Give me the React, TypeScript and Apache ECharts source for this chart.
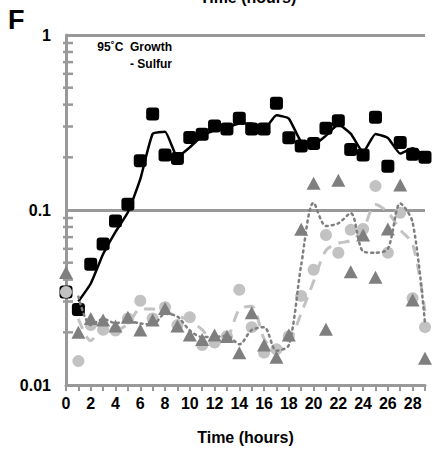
import React, { useEffect, useRef } from "react";
import * as echarts from "echarts";

const hours = [0,1,2,3,4,5,6,7,8,9,10,11,12,13,14,15,16,17,18,19,20,21,22,23,24,25,26,27,28,29];
const squares = [0.034,0.027,0.049,0.064,0.0865,0.108,0.191,0.354,0.206,0.197,0.26,0.271,0.302,0.29,0.334,0.29,0.29,0.407,0.259,0.232,0.24,0.293,0.324,0.222,0.206,0.339,0.178,0.243,0.208,0.2];
const squaresTrend = [null,0.030,0.038,0.056,0.075,0.097,0.150,0.272,0.280,0.201,0.228,0.265,0.286,0.296,0.312,0.312,0.290,0.348,0.333,0.245,0.236,0.266,0.308,0.273,0.214,0.272,0.258,0.210,0.225,0.204];
const circles = [0.034,0.0137,0.022,0.0207,0.0205,0.024,0.0303,0.024,0.0278,0.022,0.0244,0.0169,0.0175,0.019,0.035,0.0214,0.0153,0.016,0.019,0.0323,0.0456,0.072,0.057,0.077,0.078,0.137,0.057,0.0965,0.0313,0.0214];
const circlesTrend = [null,0.0239,0.0179,0.0214,0.0206,0.0223,0.0272,0.0272,0.0259,0.0249,0.0232,0.0207,0.0172,0.0183,0.027,0.0282,0.0184,0.0157,0.0175,0.0257,0.039,0.0588,0.0645,0.067,0.0775,0.1075,0.097,0.077,0.064,0.0264];
const triangles = [0.044,0.02,0.024,0.0235,0.0217,0.0244,0.0206,0.0235,0.0274,0.0217,0.0193,0.0182,0.0193,0.0189,0.0153,0.0259,0.0169,0.0144,0.0193,0.0776,0.142,0.0208,0.148,0.0444,0.072,0.0413,0.078,0.139,0.0306,0.0142];
const trianglesTrend = [null,0.032,0.022,0.0238,0.0226,0.0231,0.0225,0.0221,0.0255,0.0246,0.0205,0.0188,0.0188,0.0191,0.0171,0.0206,0.0214,0.0157,0.0169,0.0485,0.110,0.081,0.084,0.096,0.058,0.057,0.060,0.109,0.085,0.0224];
const minorTicks = [0.02,0.03,0.04,0.05,0.06,0.07,0.08,0.09,0.2,0.3,0.4,0.5,0.6,0.7,0.8,0.9];

const pair = (vals: (number | null)[]) => hours.map((h, i) => [h, vals[i]]).filter((p) => p[1] !== null);

const AXIS = "#999999";
const FONT = "Liberation Sans, Arial, sans-serif";

export default function App() {
  const ref = useRef<HTMLDivElement>(null);
  useEffect(() => {
    if (!ref.current) return;
    const chart = echarts.init(ref.current, null, { renderer: "svg" });
    chart.setOption({
      animation: false,
      grid: { left: 66, right: 18, top: 35, bottom: 66, containLabel: false, outerBoundsMode: "none" },
      xAxis: {
        type: "value",
        min: 0,
        max: 29,
        interval: 1,
        name: "Time (hours)",
        nameLocation: "middle",
        nameGap: 44,
        nameTextStyle: { fontFamily: FONT, fontWeight: "bold", fontSize: 16, color: "#000" },
        axisLine: { onZero: false, lineStyle: { color: AXIS, width: 3 } },
        axisTick: { length: 6, lineStyle: { color: AXIS, width: 2 } },
        axisLabel: {
          formatter: (v: number) => (v % 2 === 0 ? String(v) : ""),
          fontFamily: FONT, fontWeight: "bold", fontSize: 16, color: "#000", margin: 10,
          showMaxLabel: true,
        },
        splitLine: { show: false },
      },
      yAxis: {
        type: "log",
        logBase: 10,
        min: 0.01,
        max: 1,
        axisLine: { show: true, lineStyle: { color: AXIS, width: 3 } },
        axisTick: { show: false },
        axisLabel: {
          formatter: (v: number) => (v >= 0.99 ? "1" : v >= 0.099 ? "0.1" : "0.01"),
          fontFamily: FONT, fontWeight: "bold", fontSize: 16, color: "#000", margin: 15,
        },
        splitLine: { show: true, lineStyle: { color: AXIS, width: 3 } },
      },
      graphic: [
        { type: "text", left: 8, top: 6, style: { text: "F", font: `bold 27px ${FONT}`, fill: "#000" } },
        { type: "text", x: 248, y: 5, style: { text: "Time (hours)", font: `bold 16px ${FONT}`, fill: "#000", textAlign: "center", textVerticalAlign: "bottom" } },
        { type: "text", x: 172, y: 47, style: { text: "95˚C  Growth", font: `bold 12px ${FONT}`, fill: "#000", textAlign: "right", textVerticalAlign: "middle" } },
        { type: "text", x: 172, y: 64, style: { text: "- Sulfur", font: `bold 12px ${FONT}`, fill: "#000", textAlign: "right", textVerticalAlign: "middle" } },
      ],
      series: [
        {
          name: "minorTicks", type: "scatter", clip: false,
          data: minorTicks.map((v) => [0, v]),
          symbol: "rect", symbolSize: [10, 2.5], symbolOffset: [2, 0],
          itemStyle: { color: AXIS, opacity: 1 }, z: 2,
        },
        {
          name: "squares", type: "scatter", data: pair(squares), symbol: "roundRect", symbolSize: 13,
          itemStyle: { color: "#000", opacity: 1 }, z: 3,
        },
        {
          name: "squaresTrend", type: "line", data: pair(squaresTrend), showSymbol: false, symbol: "none",
          smooth: 0.15, lineStyle: { color: "#000", width: 2.5 }, z: 4,
        },
        {
          name: "circles", type: "scatter", data: pair(circles), symbol: "circle", symbolSize: 12,
          itemStyle: { color: "#c2c2c2", opacity: 1 }, z: 5,
        },
        {
          name: "circlesTrend", type: "line", data: pair(circlesTrend), showSymbol: false, symbol: "none",
          smooth: 0.3, lineStyle: { color: "#c2c2c2", width: 3, type: [11, 8] }, z: 6,
        },
        {
          name: "triangles", type: "scatter", data: pair(triangles), symbol: "triangle", symbolSize: [14, 13],
          itemStyle: { color: "#7f7f7f", opacity: 1 }, z: 7,
        },
        {
          name: "trianglesTrend", type: "line", data: pair(trianglesTrend), showSymbol: false, symbol: "none",
          smooth: 0.3, lineStyle: { color: "#7f7f7f", width: 2.5, type: [2, 4], cap: "round" }, z: 8,
        },
      ],
    });
    return () => chart.dispose();
  }, []);
  return <div ref={ref} style={{ position: "absolute", left: 0, top: 0, width: 443, height: 451 }} />;
}
